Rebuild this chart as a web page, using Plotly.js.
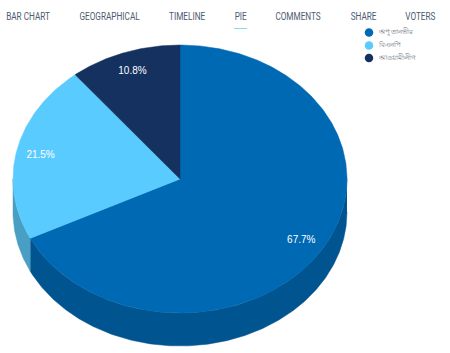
<!DOCTYPE html>
<html><head><meta charset="utf-8">
<script src="https://cdn.plot.ly/plotly-3.0.1.min.js"></script>
<style>html,body{margin:0;padding:0;background:#fff}#c{width:450px;height:353px}</style>
</head><body><div id="c"></div>
<script>
const categories = ["অপু তানভীর", "বিএনপি", "আওয়ামীলীগ"];
const values = [67.7, 21.5, 10.8];
const topColors = ["#0069B4", "#5ACBFF", "#14315F"];
const sideColors = ["#00548F", "#489FC3", "#102850"];
const navTabs = ["BAR CHART", "GEOGRAPHICAL", "TIMELINE", "PIE", "COMMENTS", "SHARE", "VOTERS"];
const navX = [28, 109, 187, 240, 298, 363, 420];

const W = 450, H = 353, cx = 180, cy = 179, rx = 167, ry = 134, depth = 33;
const px = a => cx + rx * Math.sin(a), py = a => cy - ry * Math.cos(a);
const total = values.reduce((a, b) => a + b, 0);
const rad = v => v / total * 2 * Math.PI;
const traces = [];
let start = 0;
const arcs = values.map(v => { const s = start; start += rad(v); return [s, start]; });

function arcPts(a0, a1) {
  const n = Math.max(2, Math.ceil((a1 - a0) / 0.01)), xs = [], ys = [];
  for (let i = 0; i <= n; i++) { const a = a0 + (a1 - a0) * i / n; xs.push(px(a)); ys.push(py(a)); }
  return [xs, ys];
}
// Extruded side walls (only the front half is visible)
arcs.forEach(([a0, a1], i) => {
  const s = Math.max(a0, Math.PI / 2), e = Math.min(a1, 3 * Math.PI / 2);
  if (e <= s) return;
  const [xs, ys] = arcPts(s, e);
  traces.push({ type: "scatter", mode: "lines", fill: "toself", fillcolor: sideColors[i],
    line: { width: 0.5, color: sideColors[i] }, hoverinfo: "skip", showlegend: false,
    x: xs.concat(xs.slice().reverse()),
    y: ys.map(y => y + depth).concat(ys.slice().reverse()) });
});
// Top faces
arcs.forEach(([a0, a1], i) => {
  const [xs, ys] = arcPts(a0, a1);
  traces.push({ type: "scatter", mode: "lines", fill: "toself", fillcolor: topColors[i],
    line: { width: 0.5, color: topColors[i] }, hoverinfo: "skip", showlegend: false,
    x: [cx].concat(xs, [cx]), y: [cy].concat(ys, [cy]) });
});
// Percentage labels
traces.push({ type: "scatter", mode: "text", hoverinfo: "skip", showlegend: false,
  x: arcs.map(([a, b]) => cx + 0.855 * rx * Math.sin((a + b) / 2)),
  y: arcs.map(([a, b]) => cy - 0.855 * ry * Math.cos((a + b) / 2) + 1),
  text: values.map(v => v.toFixed(1) + "%"),
  textfont: { family: "Liberation Sans, Arial, sans-serif", size: 10, color: "#ffffff" } });
// Legend, drawn as marked rows so the row spacing stays tight
const legendY = [32.5, 45.5, 58];
traces.push({ type: "scatter", mode: "markers", hoverinfo: "skip", showlegend: false,
  x: categories.map(() => 369), y: legendY,
  marker: { color: topColors, size: 8.5, symbol: "circle" } });
traces.push({ type: "scatter", mode: "text", hoverinfo: "skip", showlegend: false,
  x: categories.map(() => 378.5), y: legendY, text: categories, textposition: "middle right",
  textfont: { family: "Noto Sans, sans-serif", size: 7, color: "#6a7280" } });

const layout = {
  width: W, height: H, margin: { l: 0, r: 0, t: 0, b: 0 }, showlegend: false,
  paper_bgcolor: "#fff", plot_bgcolor: "#fff",
  xaxis: { range: [0, W], visible: false, fixedrange: true },
  yaxis: { range: [H, 0], visible: false, fixedrange: true },
  annotations: navTabs.map((t, i) => ({ x: navX[i], y: 16, xref: "x", yref: "y", text: t,
    showarrow: false, font: { family: "Roboto, sans-serif", size: 10.5, color: "#4d5b70" } })),
  shapes: [{ type: "line", xref: "x", yref: "y", x0: 234, x1: 247, y0: 28.5, y1: 28.5,
    line: { color: "#8fd5ee", width: 1 } }]
};
Plotly.newPlot("c", traces, layout, { displayModeBar: false, staticPlot: true }).then(gd => {
  // The reference's tabs use a condensed face: squeeze the real text to that width.
  gd.querySelectorAll(".annotation-text").forEach(t => {
    t.setAttribute("textLength", t.getComputedTextLength() * 0.78);
    t.setAttribute("lengthAdjust", "spacingAndGlyphs");
  });
});
</script></body></html>
